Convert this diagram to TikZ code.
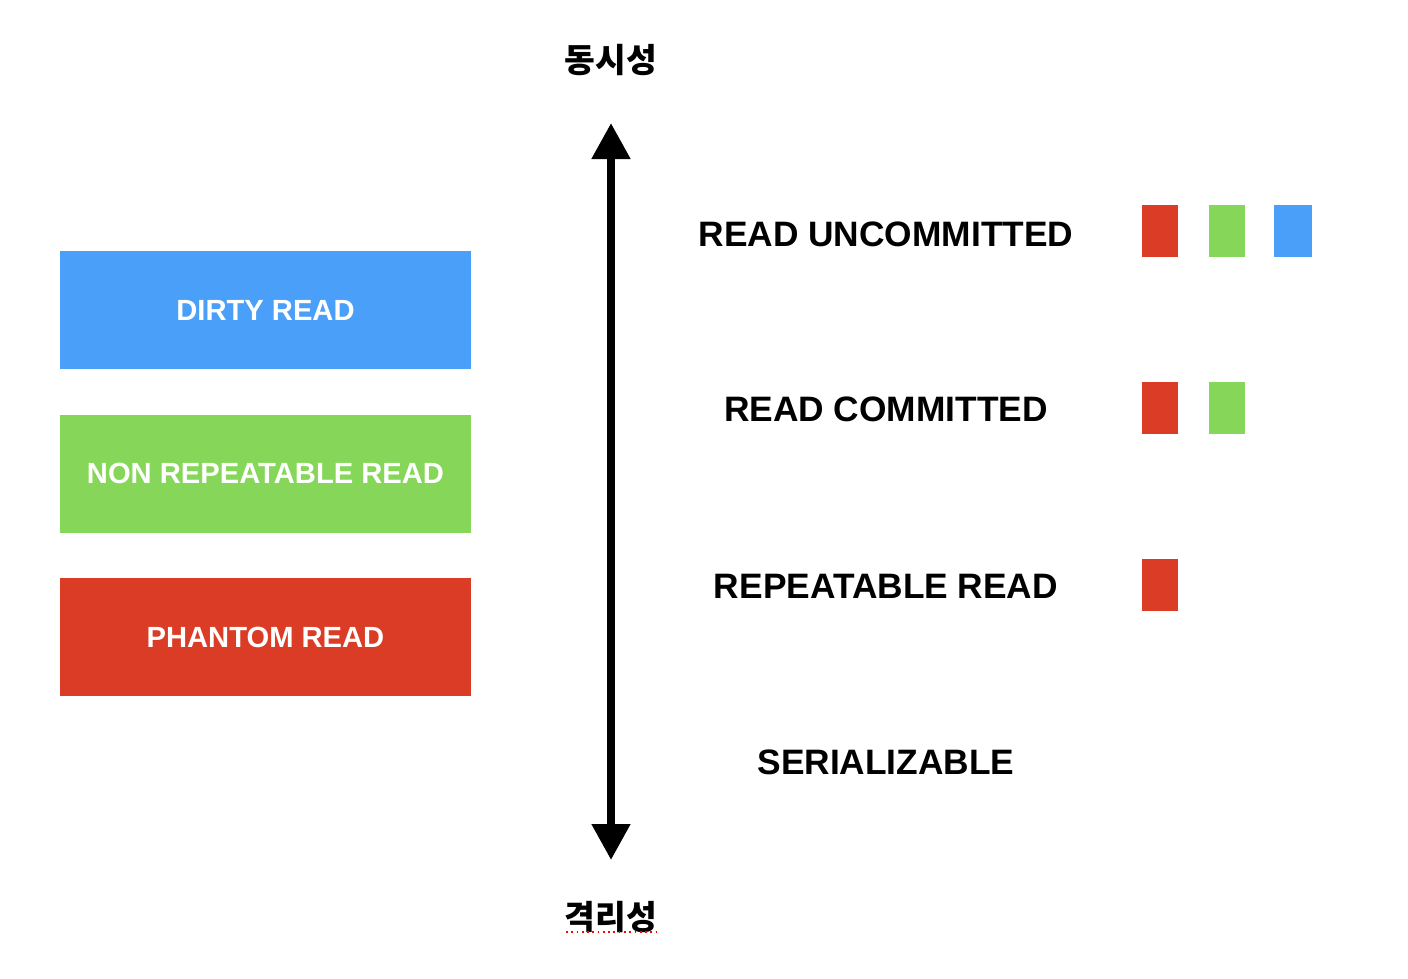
\documentclass[tikz,border=0pt]{standalone}
\usepackage{fontspec}
\setmainfont{Liberation Sans}
\newfontfamily\kofont{Noto Sans CJK KR}
\usetikzlibrary{arrows.meta,positioning}

\definecolor{dirtyblue}{HTML}{4AA0F8}
\definecolor{nonrepgreen}{HTML}{86D759}
\definecolor{phantomred}{HTML}{DB3C26}

\tikzset{
    anomaly/.style={minimum width=4.1cm, minimum height=1.18cm, inner sep=0pt,
        text=white, font=\fontsize{8.3}{10}\selectfont\bfseries},
    level/.style={font=\fontsize{10.05}{12}\selectfont\bfseries},
    axislabel/.style={font=\kofont\fontsize{9.5}{11}\selectfont\bfseries},
    mark box/.style={minimum width=0.36cm, minimum height=0.52cm, inner sep=0pt}
}

\begin{document}
\begin{tikzpicture}
	\useasboundingbox (0,0) rectangle (14.08,-9.78);
	
	% anomalies on the left
	\node (dirty) [anomaly, fill=dirtyblue] at (2.655,-3.10) {DIRTY READ};
	\node (nonrep) [anomaly, fill=nonrepgreen] at (2.655,-4.735) {NON REPEATABLE READ};
	\node (phantom) [anomaly, fill=phantomred] at (2.655,-6.37) {PHANTOM READ};
	
	% the axis
	\node (concur) [axislabel] at (6.11,-0.60) {동시성};
	\node (isol) [axislabel] at (6.11,-9.17) {격리성};
	\draw[red, densely dotted, line width=0.5pt] (5.66,-9.32) -- (6.58,-9.32);
	
	\coordinate (top) at (6.11,-1.23);
	\coordinate (bottom) at (6.11,-8.60);
	\draw[line width=0.08cm, {Triangle[width=0.37cm,length=0.36cm]}-{Triangle[width=0.37cm,length=0.36cm]}]
	(top) -- (bottom);
	
	% isolation levels
	\node (ru) [level] at (8.86,-2.34) {READ UNCOMMITTED};
	\node (rc) [level] at (8.86,-4.09) {READ COMMITTED};
	\node (rr) [level] at (8.86,-5.86) {REPEATABLE READ};
	\node (se) [level] at (8.86,-7.62) {SERIALIZABLE};
	
	% which anomalies can happen
	\node (ru1) [mark box, fill=phantomred] at (11.60,-2.305) {};
	\node (ru2) [mark box, fill=nonrepgreen] at (12.265,-2.305) {};
	\node (ru3) [mark box, fill=dirtyblue, minimum width=0.38cm] at (12.93,-2.31) {};
	
	\node (rc1) [mark box, fill=phantomred] at (11.60,-4.075) {};
	\node (rc2) [mark box, fill=nonrepgreen] at (12.265,-4.075) {};
	
	\node (rr1) [mark box, fill=phantomred] at (11.60,-5.845) {};
	
\end{tikzpicture}
\end{document}
